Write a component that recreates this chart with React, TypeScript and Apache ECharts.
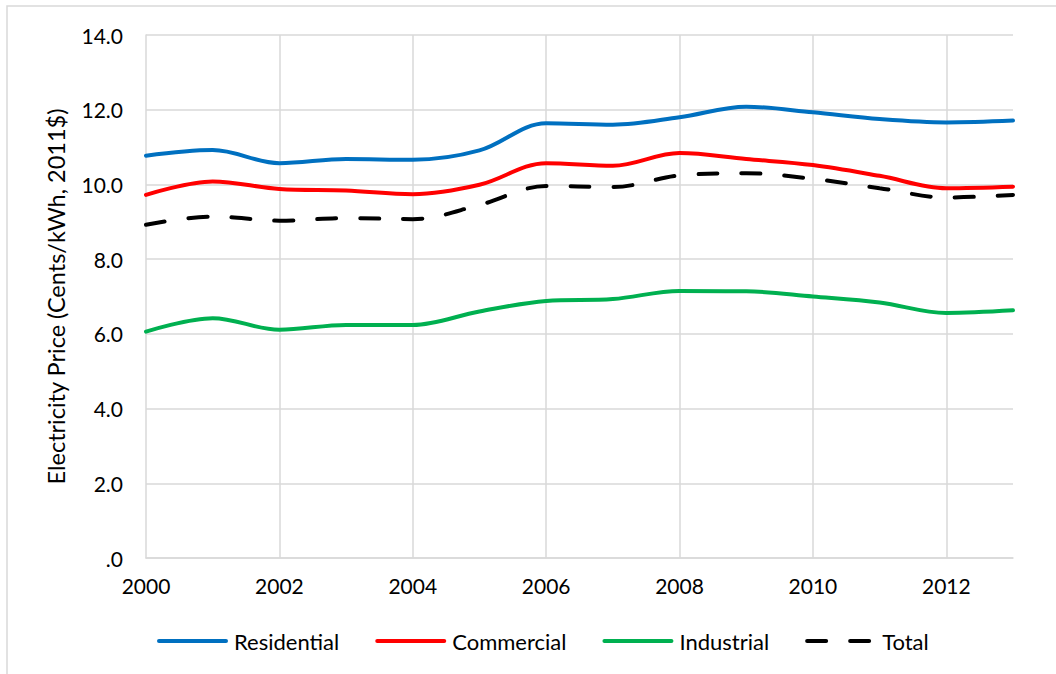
import React, { useEffect, useRef } from "react";
import * as echarts from "echarts";

const years = ["2000","2001","2002","2003","2004","2005","2006","2007","2008","2009","2010","2011","2012","2013"];
const residential = [10.77, 10.92, 10.57, 10.68, 10.66, 10.91, 11.64, 11.6, 11.8, 12.08, 11.93, 11.75, 11.66, 11.71];
const commercial = [9.72, 10.08, 9.88, 9.84, 9.74, 9.99, 10.57, 10.5, 10.84, 10.68, 10.52, 10.23, 9.9, 9.94];
const industrial = [6.06, 6.42, 6.11, 6.24, 6.24, 6.6, 6.88, 6.93, 7.15, 7.14, 7.0, 6.84, 6.56, 6.63];
const total = [8.92, 9.14, 9.03, 9.1, 9.07, 9.45, 9.96, 9.93, 10.24, 10.3, 10.15, 9.9, 9.65, 9.72];
const yTitle = "Electricity Price (Cents/kWh, 2011$)";

const FONT = "Lato";

export default function App() {
  const ref = useRef<HTMLDivElement>(null);
  useEffect(() => {
    document.body.style.margin = "0";
    const chart = echarts.init(ref.current!, null, { renderer: "svg" });
    const mk = (name: string, data: number[], color: string, dashed = false) => ({
      name,
      type: "line",
      data,
      smooth: 0.35,
      symbol: "none",
      showSymbol: false,
      lineStyle: {
        color,
        width: 4,
        type: dashed ? [19, 24] : "solid",
        cap: "round",
      },
      itemStyle: { color },
    });
    chart.setOption({
      animation: false,
      backgroundColor: "#fff",
      textStyle: { fontFamily: FONT },
      graphic: [
        {
          type: "rect",
          shape: { x: 7, y: 6, width: 1100, height: 720 },
          style: { fill: "none", stroke: "#d9d9d9", lineWidth: 1.5 },
          z: -1,
        },
      ],
      grid: { left: 146, right: 43, top: 35, bottom: 116, containLabel: false },
      legend: {
        left: 152,
        top: 625,
        itemWidth: 67,
        itemHeight: 22,
        itemGap: 36,
        itemStyle: { opacity: 0 },
        lineStyle: { width: 4, cap: "round" },
        textStyle: { fontFamily: FONT, fontSize: 22, color: "#000", padding: [0, 0, 0, 3] },
        data: ["Residential", "Commercial", "Industrial", "Total"],
      },
      xAxis: {
        type: "category",
        data: years,
        boundaryGap: false,
        axisLine: { show: true, lineStyle: { color: "#d9d9d9", width: 1.5 } },
        axisTick: { show: false },
        axisLabel: {
          interval: (i: number) => i % 2 === 0 && i < 13,
          fontFamily: FONT,
          fontSize: 21,
          color: "#000",
          margin: 17,
        },
        splitLine: {
          show: true,
          interval: (i: number) => i % 2 === 0 && i > 0 && i < 13,
          lineStyle: { color: "#d9d9d9", width: 1.5 },
        },
      },
      yAxis: {
        type: "value",
        min: 0,
        max: 14,
        interval: 2,
        name: yTitle,
        nameLocation: "middle",
        nameGap: 78,
        nameTextStyle: { fontFamily: FONT, fontSize: 23.5, color: "#000" },
        axisLine: { show: true, lineStyle: { color: "#d9d9d9", width: 1.5 } },
        axisTick: { show: false },
        axisLabel: {
          formatter: (v: number) => (v === 0 ? ".0" : v.toFixed(1)),
          fontFamily: FONT,
          fontSize: 21,
          color: "#000",
          margin: 23,
        },
        splitLine: { show: true, lineStyle: { color: "#d9d9d9", width: 1.5 } },
      },
      series: [
        mk("Residential", residential, "#0070c0"),
        mk("Commercial", commercial, "#ff0000"),
        mk("Industrial", industrial, "#00b050"),
        mk("Total", total, "#000000", true),
      ],
    });
    return () => chart.dispose();
  }, []);
  return <div ref={ref} style={{ width: 1056, height: 674 }} />;
}
